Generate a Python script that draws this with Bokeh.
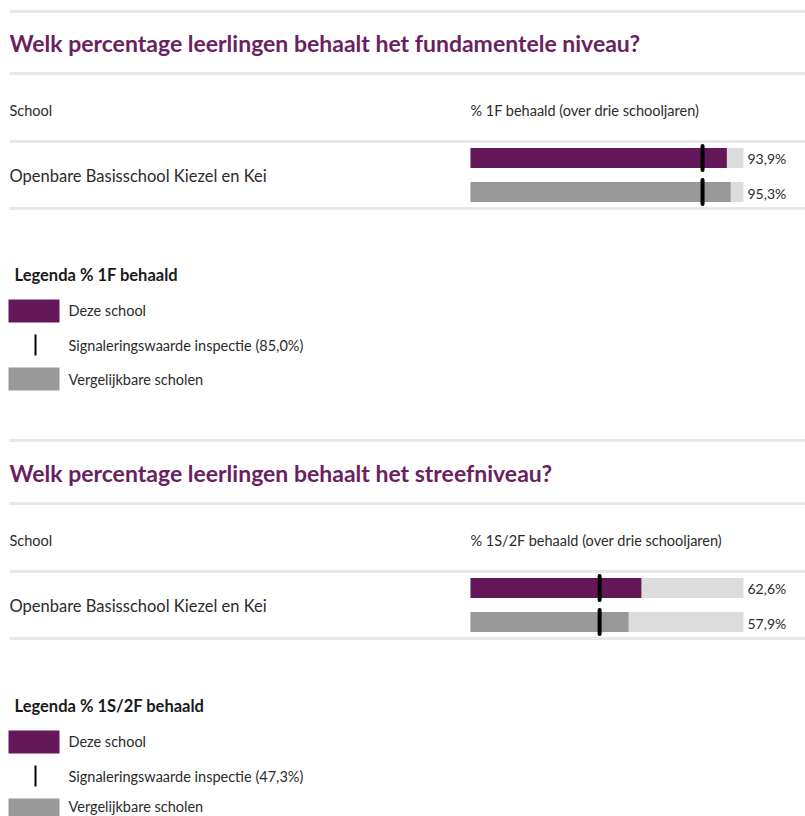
from bokeh.plotting import figure
from bokeh.models import Range1d
from bokeh.core.properties import value
from bokeh.embed import file_html
from bokeh.resources import INLINE

# ---- data ----
titles = ["Welk percentage leerlingen behaalt het fundamentele niveau?",
          "Welk percentage leerlingen behaalt het streefniveau?"]
col_headers = ["% 1F behaald (over drie schooljaren)",
               "% 1S/2F behaald (over drie schooljaren)"]
school = "Openbare Basisschool Kiezel en Kei"
this_school = [93.9, 62.6]
comparable = [95.3, 57.9]
signal_value = [85.0, 47.3]
value_labels_school = ["93,9%", "62,6%"]
value_labels_comp = ["95,3%", "57,9%"]
legend_titles = ["Legenda % 1F behaald", "Legenda % 1S/2F behaald"]
signal_labels = ["Signaleringswaarde inspectie (85,0%)",
                 "Signaleringswaarde inspectie (47,3%)"]
legend_items = ["Deze school", "Vergelijkbare scholen"]

# ---- styling / layout ----
W, H = 805, 816
BAR_LEFT, PX_PER_PCT = 470, 2.73
PURPLE = "#64185a"
TITLE_PURPLE = "#6b1f60"
GREY = "#999999"
BG = "#dcdcdc"
RULE = "#e8e8e8"
TXT = "#2b2b2b"
FONT = value("Lato")


def px(p):
    """layout pixel -> x data units (percent)"""
    return (p - BAR_LEFT) / PX_PER_PCT


p = figure(width=W, height=H, output_backend="svg", toolbar_location=None,
           x_range=Range1d(px(0), px(W)), y_range=Range1d(H, 0),
           min_border=0)
p.axis.visible = False
p.grid.visible = False
p.outline_line_color = None

offsets = [0, 430]
for i, off in enumerate(offsets):
    # rules
    for y in [11, 73, 141, 208]:
        if i == 1 and y == 11:
            y = 10
        p.segment(x0=[px(9)], x1=[px(W)], y0=[y + off], y1=[y + off],
                  line_color=RULE, line_width=3)
    # title
    p.text(x=[px(9)], y=[42 + off], text=[titles[i]], text_font=FONT,
           text_font_size="23px", text_font_style="bold",
           text_color=TITLE_PURPLE, text_baseline="middle")
    # headers
    p.text(x=[px(9), px(470)], y=[110 + off, 110 + off],
           text=["School", col_headers[i]], text_font=FONT,
           text_font_size="14.5px", text_color=TXT, text_baseline="middle")
    p.text(x=[px(9)], y=[175 + off], text=[school], text_font=FONT,
           text_font_size="16.5px", text_color=TXT, text_baseline="middle")
    # bars
    ys = [157.5 + off, 191.5 + off]
    p.hbar(y=ys, left=[0, 0], right=[100, 100], height=20,
           fill_color=BG, line_color=None)
    p.hbar(y=[ys[0]], left=[0], right=[this_school[i]], height=20,
           fill_color=PURPLE, line_color=None)
    p.hbar(y=[ys[1]], left=[0], right=[comparable[i]], height=20,
           fill_color=GREY, line_color=None)
    p.segment(x0=[signal_value[i]] * 2, x1=[signal_value[i]] * 2,
              y0=[y - 12 for y in ys], y1=[y + 12 for y in ys],
              line_color="black", line_width=4, line_cap="round")
    p.text(x=[px(747), px(747)], y=[ys[0], ys[1] + 1],
           text=[value_labels_school[i], value_labels_comp[i]], text_font=FONT,
           text_font_size="14px", text_color=TXT, text_baseline="middle")
    # legend
    lo = [0, 431][i]
    p.text(x=[px(14)], y=[274 + lo], text=[legend_titles[i]], text_font=FONT,
           text_font_size="16.5px", text_font_style="bold", text_color="#1a1a1a",
           text_baseline="middle")
    p.quad(left=[px(8), px(8)], right=[px(59), px(59)],
           top=[299 + lo, 367 + lo], bottom=[322 + lo, 390 + lo],
           fill_color=[PURPLE, GREY], line_color=None)
    p.segment(x0=[px(35)], x1=[px(35)], y0=[334 + lo], y1=[355 + lo],
              line_color="black", line_width=2)
    last_y = min(379 + lo, 806)
    p.text(x=[px(68)] * 3, y=[310 + lo, 345 + lo, last_y],
           text=[legend_items[0], signal_labels[i], legend_items[1]],
           text_font=FONT, text_font_size="14.5px", text_color=TXT,
           text_baseline="middle")

open("out.html", "w").write(file_html(p, INLINE))
